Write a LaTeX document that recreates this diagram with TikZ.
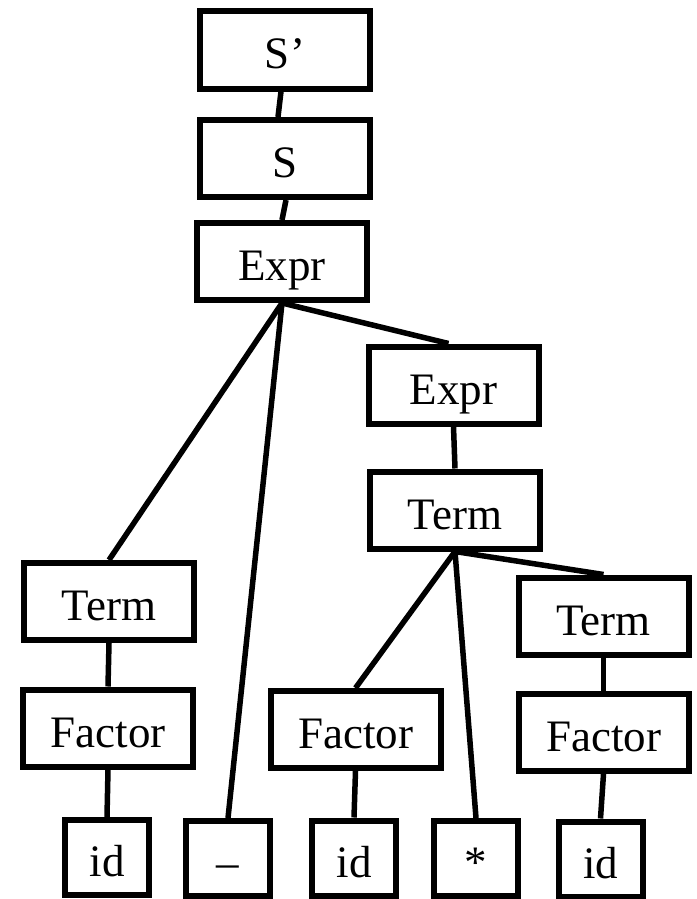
\documentclass[tikz,border=0pt]{standalone}
\usepackage{fontspec}
\setmainfont{Liberation Serif}
\begin{document}
\begin{tikzpicture}[x=1pt,y=-1pt,
  box/.style={draw=black, line width=6pt, inner sep=0pt, font=\fontsize{45}{45}\selectfont,
    text height=38pt, text depth=0pt, anchor=center},
  big/.style={box, minimum width=170pt, minimum height=77pt},
  small/.style={box, minimum width=84pt, minimum height=75pt},
  edge/.style={draw=black, line width=5.5pt}]
\useasboundingbox (0,0) rectangle (696,899);
\node[big] (sp) at (285,50) {S’};
\node[big] (s) at (285,158.5) {S};
\node[big] (e1) at (282,261.5) {Expr};
\node[big] (e2) at (453.5,385) {Expr};
\node[big] (t2) at (455,510) {Term};
\node[big] (tL) at (109,601.5) {Term};
\node[big] (tR) at (603.5,616) {Term};
\node[big] (fL) at (108,728) {Factor};
\node[big] (fM) at (355.5,729.5) {Factor};
\node[big] (fR) at (603.5,732.5) {Factor};
\node[small] (idL) at (107,857.5) {id};
\node[small] (mn) at (228,858.5) {–};
\node[small] (idM) at (354,858) {id};
\node[small] (st) at (476,858.5) {*};
\node[small] (idR) at (600.5,859) {id};
\draw[edge] ([xshift=-4pt]sp.south) -- ([xshift=-7pt]s.north);
\draw[edge] ([xshift=1pt]s.south) -- (e1.north);
\draw[edge] (e1.south) -- (tL.north);
\draw[edge] (e1.south) -- (mn.north);
\draw[edge] (e1.south) -- ([xshift=-5pt]e2.north);
\draw[edge] (e2.south) -- (t2.north);
\draw[edge] (t2.south) -- (fM.north);
\draw[edge] (t2.south) -- (st.north);
\draw[edge] (t2.south) -- (tR.north);
\draw[edge] (tL.south) -- (fL.north);
\draw[edge] (fL.south) -- (idL.north);
\draw[edge] (fM.south) -- (idM.north);
\draw[edge] (tR.south) -- (fR.north);
\draw[edge] (fR.south) -- (idR.north);
\end{tikzpicture}
\end{document}
